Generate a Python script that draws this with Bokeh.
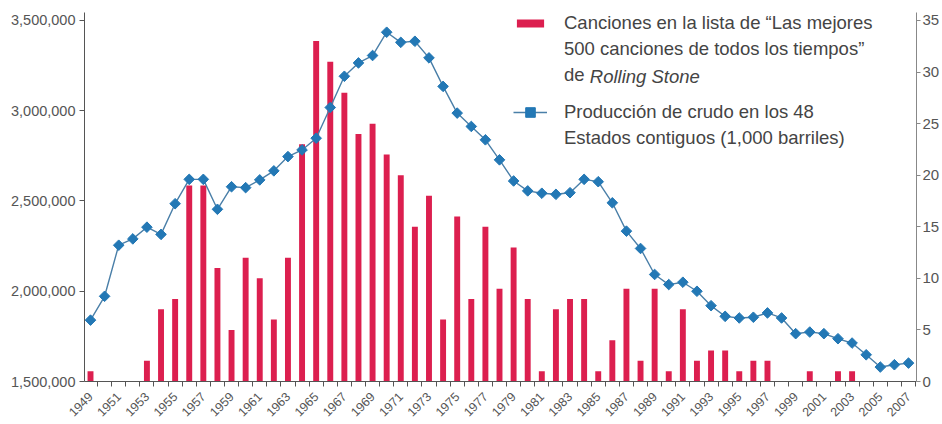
import math
from bokeh.plotting import figure
from bokeh.models import (Range1d, LinearAxis, FixedTicker, Legend, LegendItem,
                          Label, NumeralTickFormatter, ColumnDataSource)
from bokeh.embed import file_html
from bokeh.resources import INLINE

years = list(range(1949, 2008))

songs = [1, 0, 0, 0, 2, 7, 8, 19, 19, 11,
         5, 12, 10, 6, 12, 23, 33, 31, 28, 24,
         25, 22, 20, 15, 18, 6, 16, 8, 15, 9,
         13, 8, 1, 7, 8, 8, 1, 4, 9, 2,
         9, 1, 7, 2, 3, 3, 1, 2, 2, 0,
         0, 1, 0, 1, 1, 0, 0, 0, 0]

crude = [1840000, 1972000, 2255000, 2290000, 2355000, 2315000, 2485000, 2620000, 2620000, 2454000,
         2579000, 2574000, 2617000, 2667000, 2746000, 2783000, 2848000, 3018000, 3191000, 3265000,
         3306000, 3435000, 3379000, 3385000, 3293000, 3135000, 2987000, 2913000, 2839000, 2728000,
         2611000, 2556000, 2543000, 2537000, 2546000, 2620000, 2607000, 2490000, 2333000, 2237000,
         2093000, 2037000, 2050000, 2000000, 1920000, 1861000, 1852000, 1856000, 1880000, 1852000,
         1765000, 1774000, 1765000, 1737000, 1713000, 1648000, 1580000, 1593000, 1602000]

left_ticks = [1500000, 2000000, 2500000, 3000000, 3500000]
right_ticks = [0, 5, 10, 15, 20, 25, 30, 35]
year_labels = list(range(1949, 2008, 2))

song_lines = ["Canciones en la lista de \u201cLas mejores",
              "500 canciones de todos los tiempos\u201d",
              "de"]
song_italic = "Rolling Stone"
crude_lines = ["Producci\u00f3n de crudo en los 48",
               "Estados contiguos (1,000 barriles)"]

FONT = "Liberation Sans"
TXT = "#444444"
AX = "#555555"
BAR = "#dc1f4f"
LINE = "#4a7fa8"
MARK = "#2378b5"

src = ColumnDataSource(dict(year=years, songs=songs, crude=crude))

p = figure(frame_width=832, frame_height=369, output_backend="svg", toolbar_location=None,
           x_range=Range1d(1948.574, 2007.567), y_range=Range1d(1500000, 3544300),
           min_border_left=84, min_border_right=26, min_border_top=12, min_border_bottom=43,
           background_fill_color="white", border_fill_color="white")
p.outline_line_color = None
p.grid.visible = False
p.xaxis.visible = False
p.yaxis.visible = False

p.extra_y_ranges = {"right": Range1d(0, 35.775)}

bars = p.vbar(x="year", top="songs", bottom=0, width=0.42, source=src,
              y_range_name="right", fill_color=BAR, line_color=None)
ln = p.line(x="year", y="crude", source=src, line_color=LINE, line_width=1.4)
mk = p.scatter(x="year", y="crude", source=src, marker="square", angle=math.pi / 4,
               size=7.5, fill_color=MARK, line_color=MARK)

# axes
xaxis = LinearAxis(ticker=FixedTicker(ticks=year_labels,
                                      minor_ticks=[y + 0.5 for y in range(1948, 2008)]))
xaxis.major_label_orientation = math.pi / 4
xaxis.major_tick_out = 0
xaxis.major_tick_in = 0
xaxis.minor_tick_out = 5
xaxis.minor_tick_in = 0
xaxis.major_label_standoff = 8
p.add_layout(xaxis, "below")

yl = LinearAxis(ticker=FixedTicker(ticks=left_ticks, minor_ticks=[]),
                formatter=NumeralTickFormatter(format="0,0"))
yl.major_tick_out = 5
yl.major_tick_in = 0
yl.major_label_standoff = 4
p.add_layout(yl, "left")

yr = LinearAxis(y_range_name="right", ticker=FixedTicker(ticks=right_ticks, minor_ticks=[]))
yr.major_tick_out = 4
yr.major_tick_in = 0
yr.major_label_standoff = 2
p.add_layout(yr, "right")

for ax in (xaxis, yl, yr):
    ax.axis_line_color = AX
    ax.major_tick_line_color = AX
    ax.minor_tick_line_color = AX
    ax.major_label_text_color = AX
    ax.major_label_text_font = FONT
    ax.major_label_text_font_size = "14.5px"
yr.axis_line_color = "#888888"
yr.major_tick_line_color = "#888888"
yr.major_label_text_font_size = "15px"
xaxis.major_label_text_font_size = "12.5px"


def style_legend(lg, gh):
    lg.label_text_font = FONT
    lg.label_text_font_size = "18.5px"
    lg.label_text_color = TXT
    lg.label_height = 26
    lg.label_standoff = 17
    lg.glyph_width = 34
    lg.glyph_height = gh
    lg.spacing = 0
    lg.padding = 0
    lg.margin = 0
    lg.border_line_color = None
    lg.background_fill_alpha = 0


leg_a = Legend(items=[LegendItem(label=song_lines[0], renderers=[bars]),
                      LegendItem(label=song_lines[1], renderers=[]),
                      LegendItem(label=song_lines[2], renderers=[])],
               location=(429, 293))
style_legend(leg_a, 10)
p.add_layout(leg_a, "center")

leg_b = Legend(items=[LegendItem(label=crude_lines[0], renderers=[ln, mk]),
                      LegendItem(label=crude_lines[1], renderers=[])],
               location=(429, 230))
style_legend(leg_b, 24)
p.add_layout(leg_b, "center")

p.add_layout(Label(x=1984.40, y=3192000, text=song_italic, text_font=FONT,
                   text_font_style="italic", text_font_size="18.5px", text_color=TXT,
                   text_baseline="middle"))

open("out.html", "w").write(file_html(p, INLINE))
